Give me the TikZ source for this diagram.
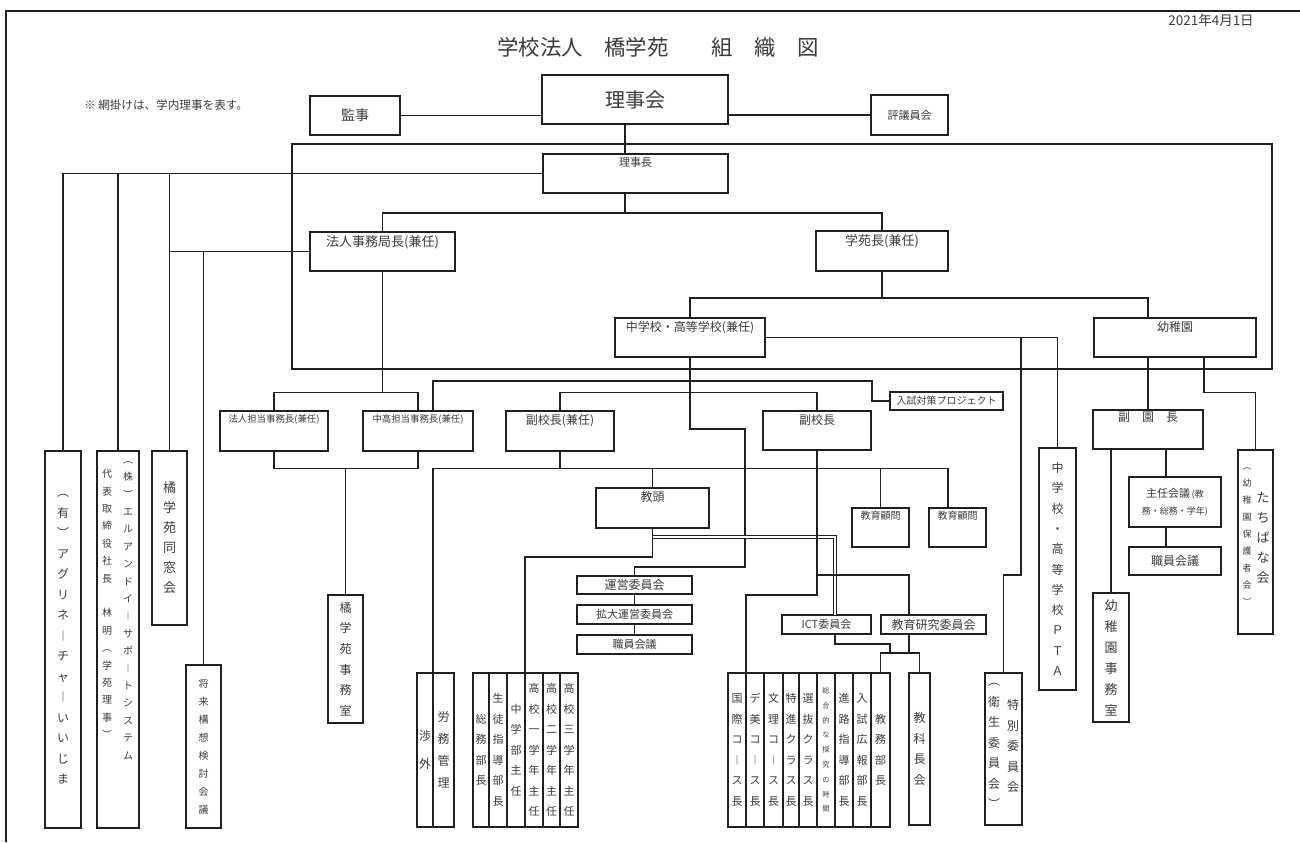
\documentclass[tikz,border=0pt]{standalone}
\usepackage{fontspec}
\usepackage{xcolor}
\usepackage{tikz}
\newfontfamily\jp{Noto Sans CJK JP}
\definecolor{ink}{HTML}{1F1F1F}
\definecolor{txt}{HTML}{3A3A3A}
\newcommand{\fsz}[2]{\fontsize{#1}{#2}\selectfont}
% stack the characters of #1 one below the other (vertical writing)
\makeatletter
\newcommand{\tate}[1]{%
  \edef\tate@list{#1}%
  \def\tate@out{}%
  \def\tate@sep{}%
  \expandafter\tate@go\tate@list\tate@end
  \tate@out}
\def\tate@go#1\tate@end{%
  \@tfor\tate@c:=#1\do{%
    \edef\tate@out{\unexpanded\expandafter{\tate@out}\tate@sep\tate@c}%
    \def\tate@sep{\noexpand\\}}}
\makeatother
\tikzset{
    box/.style={draw=ink,line width=0.8pt,inner sep=1pt,outer sep=0pt,
      text=txt,font=\jp\fsz{6}{7}},
    sz/.style 2 args={minimum width=#1*0.5pt,minimum height=#2*0.5pt},
    toplab/.style={anchor=north,inner sep=1.5pt,text=txt,font=\jp\fsz{6}{7}},
    tatebox/.style={box,align=center,font=\jp\fsz{6}{10.25}},
    tatetext/.style={align=center,inner sep=0pt,text=txt,font=\jp\fsz{6}{10.25}},
    wire/.style={draw=ink,line width=0.8pt},
    dblwire/.style={draw=ink,line width=0.45pt,double,double distance=0.9pt}
}

\begin{document}
\begin{tikzpicture}[x=0.5pt,y=-0.5pt]
  \useasboundingbox (0,0) rectangle (1300,842);
  \coordinate (frameSW) at (6,842);
  \coordinate (frameNE) at (1300,11);
  \draw[wire] (frameSW) |- (frameNE);

  \node[text=txt,font=\jp\fsz{10.7}{12}] (title) at (658,47) {学校法人　橋学苑　　組　織　図};
  \node[text=txt,font=\jp\fsz{6.75}{8}] (date) at (1211,20) {2021年4月1日};
  \node[anchor=west,text=txt,font=\jp\fsz{5.8}{7}] (note) at (77,105) {※ 網掛けは、学内理事を表す。};

  % board and the chair
  \node[box,sz={90}{39},font=\jp\fsz{7}{8}] (kanji) at (355,115.5) {監事};
  \node[box,sz={186}{49},font=\jp\fsz{10}{11}] (rijikai) at (635,99.5) {理事会};
  \node[box,sz={77}{40},font=\jp\fsz{5.5}{7}] (hyogi) at (909.5,115) {評議員会};
  \node[box,sz={185}{39},label={[toplab,font=\jp\fsz{5.5}{7}]north:理事長}] (rijicho) at (635.5,173.5) {};
  \node[box,sz={145}{39},label={[toplab,font=\jp\fsz{6.5}{8}]north:法人事務局長(兼任)}] (hojin) at (382.5,251.5) {};
  \node[box,sz={132}{40},label={[toplab,font=\jp\fsz{6.5}{8}]north:学苑長(兼任)}] (gakuen) at (882,251) {};
  \node[box,sz={150}{39},label={[toplab]north:中学校・高等学校(兼任)}] (chuko) at (690,337.5) {};
  \node[box,sz={162}{39},label={[toplab]north:幼稚園}] (yochien) at (1175,337.5) {};

  % school side
  \node[box,sz={108}{40},label={[toplab,font=\jp\fsz{4.7}{6}]north:法人担当事務長(兼任)}] (hojintan) at (274,431) {};
  \node[box,sz={110}{40},label={[toplab,font=\jp\fsz{4.7}{6}]north:中高担当事務長(兼任)}] (chukotan) at (418,431) {};
  \node[box,sz={108}{40},label={[toplab]north:副校長(兼任)}] (fukukoken) at (560,431) {};
  \node[box,sz={108}{39},label={[toplab]north:副校長}] (fukuko) at (817,430.5) {};
  \node[box,sz={113}{18},font=\jp\fsz{5}{6}] (nyushi) at (946.5,401) {入試対策プロジェクト};
  \node[box,sz={113}{40},label={[toplab]north:教頭}] (kyoto) at (652.5,508) {};
  \node[box,sz={57}{39},label={[toplab,font=\jp\fsz{5}{6}]north:教育顧問}] (komon1) at (880.5,527.5) {};
  \node[box,sz={57}{39},label={[toplab,font=\jp\fsz{5}{6}]north:教育顧問}] (komon2) at (957.5,527.5) {};
  \node[box,sz={115}{18}] (unei) at (634.5,585) {運営委員会};
  \node[box,sz={115}{19},font=\jp\fsz{5.5}{7}] (kakudai) at (634.5,614.5) {拡大運営委員会};
  \node[box,sz={115}{19},font=\jp\fsz{5.5}{7}] (shokuin) at (634.5,644.5) {職員会議};
  \node[box,sz={89}{19},font=\jp\fsz{5.5}{7}] (ict) at (826.5,624.5) {ICT委員会};
  \node[box,sz={105}{19}] (kenkyu) at (933.5,624.5) {教育研究委員会};

  % kindergarten side
  \node[box,sz={110}{39},label={[toplab,inner sep=0.8pt]north:副　園　長}] (fukuen) at (1148,429.5) {};
  \node[box,sz={92}{50},align=center,font=\jp\fsz{4.5}{8.5}] (shunin) at (1175,502)
    {{\fsz{5.5}{8.5}主任会議}\,(教\\務・総務・学年)};
  \node[box,sz={92}{28}] (yshokuin) at (1175,561) {職員会議};

  % vertical boxes, left
  \node[tatebox,sz={36}{377}] (agri) at (63,639.5) {\tate{︵有︶アグリネ︱チャ︱いいじま}};
  \node[box,sz={42}{377}] (kabu) at (118,639.5) {};
  \node[tatetext,anchor=north,font=\jp\fsz{5}{8.7}] (kabuR) at (128,461) {\tate{︵株︶エルアンドイ︱サポ︱トシステム}};
  \node[tatetext,anchor=north,font=\jp\fsz{5}{8.7}] (kabuL) at (107,469) {\tate{代表取締役社長　林明︵学苑理事︶}};
  \node[tatebox,sz={35}{174},font=\jp\fsz{6.5}{10}] (doso) at (169.5,538) {\tate{橘学苑同窓会}};
  \node[tatebox,sz={35}{163},font=\jp\fsz{5}{9}] (shorai) at (203.5,746.5) {\tate{将来構想検討会議}};
  \node[tatebox,sz={35}{128},font=\jp\fsz{6}{10.3}] (jimu) at (345.5,659) {\tate{橘学苑事務室}};

  % vertical boxes, bottom row
  \node[tatebox,sz={16}{154},font=\jp\fsz{6}{14}] (shogai) at (425,750) {\tate{渉外}};
  \node[tatebox,sz={21}{154},font=\jp\fsz{6}{11}] (romu) at (443.5,750) {\tate{労務管理}};
  \foreach \i/\xa/\xb/\txt in {1/473/489/総務部長,2/489/507/生徒指導部長,3/507/525/中学部主任,
      4/525/543/高校一学年主任,5/543/560/高校二学年主任,6/560/578/高校三学年主任} {
    \node[tatebox,font=\jp\fsz{5.5}{10.25},minimum width={(\xb-\xa)*0.5pt},minimum height=77pt]
      (m\i) at ({(\xa+\xb)/2},750) {\tate{\txt}};
  }
  \foreach \i/\xa/\xb/\fsv/\lsv/\txt in {1/728/746/5.5/10.25/国際コ︱ス長,2/746/764/5.5/10.25/デ美コ︱ス長,
      3/764/783/5.5/10.25/文理コ︱ス長,4/783/799/5.5/10.25/特進クラス長,5/799/817/5.5/10.25/選抜クラス長,
      6/817/835/3.6/7.4/総合的な探究の時間,7/835/853/5.5/10.25/進路指導部長,
      8/853/871/5.5/10.25/入試広報部長,9/871/890/5.5/10.25/教務部長} {
    \node[tatebox,font=\jp\fsz{\fsv}{\lsv},minimum width={(\xb-\xa)*0.5pt},minimum height=77pt]
      (k\i) at ({(\xa+\xb)/2},750) {\tate{\txt}};
  }
  \node[tatebox,sz={21}{152},font=\jp\fsz{6}{10.25}] (kyokacho) at (919.5,749) {\tate{教科長会}};
  \node[box,sz={37}{152}] (tokubetsu) at (1003.5,749) {};
  \node[tatetext] (tokuR) at (1013,746) {\tate{特別委員会}};
  \node[tatetext] (tokuL) at (994,746) {\tate{︵衛生委員会︶}};
  \node[tatebox,sz={37}{242},font=\jp\fsz{6}{10.15}] (pta) at (1057.5,569) {\tate{中学校・高等学校ＰＴＡ}};
  \node[tatebox,sz={36}{129},font=\jp\fsz{6.5}{10.5}] (yjimu) at (1111,657.5) {\tate{幼稚園事務室}};
  \node[box,sz={35}{184}] (tachibana) at (1255.5,542) {};
  \node[tatetext,font=\jp\fsz{6.5}{10}] (tachiR) at (1263,538) {\tate{たちばな会}};
  \node[tatetext,font=\jp\fsz{4.5}{8.5}] (tachiL) at (1247,537) {\tate{︵幼稚園保護者会︶}};

  % bus lines
  \coordinate (trunk) at (625,0);
  \coordinate (loopnw) at (292,144);
  \coordinate (loopse) at (1272,369);
  \coordinate (busA) at (0,213);
  \coordinate (busB) at (0,298);
  \coordinate (busD) at (0,392.5);
  \coordinate (busE) at (0,468.5);
  \coordinate (busF) at (0,537);
  \coordinate (busG) at (0,557);
  \coordinate (busH) at (0,575);
  \coordinate (busI) at (0,595);
  \coordinate (busJ) at (0,644);
  \coordinate (busK) at (0,653);
  \coordinate (nyushiturn) at (872,381);
  \coordinate (tokuturn) at (1021,575);
  \coordinate (chukoturn) at (745,429);
  \coordinate (uneiturn) at (745,567);

  \draw[wire] (loopnw) rectangle (loopse);
  \draw[wire] (kanji.east) -- (kanji.east -| rijikai.west);
  \draw[wire] (hyogi.west) -- (hyogi.west -| rijikai.east);
  \draw[wire] (rijikai.south -| trunk) -- (rijicho.north -| trunk);
  \draw[wire] (rijicho.west) -| (agri.north);
  \draw[wire] (kabu.north) -- (kabu.north |- rijicho.west);
  \draw[wire] (doso.north) -- (doso.north |- rijicho.west);
  \draw[wire] (hojin.west) -- (hojin.west -| doso.north);
  \draw[wire] (shorai.north) -- (shorai.north |- hojin.west);
  \draw[wire] (rijicho.south -| trunk) -- (trunk |- busA);
  \draw[wire] (hojin.north) -- (hojin.north |- busA) -- (gakuen.north |- busA) -- (gakuen.north);
  \draw[wire] (gakuen.south) -- (gakuen.south |- busB);
  \draw[wire] (chuko.north) -- (chuko.north |- busB) -- (fukuen.north |- busB) -- (fukuen.north |- yochien.north);
  \draw[wire] (fukuen.north |- yochien.south) -- (fukuen.north);
  \draw[wire] ([xshift=14.5pt]yochien.south) |- (tachibana.north |- busD) -- (tachibana.north);
  \draw[wire] (chuko.east) -| (pta.north);
  \draw[wire] (chuko.east -| tokuturn) -- (tokuturn) -| (tokubetsu.north);
  \draw[wire] (chuko.south) |- (chukoturn) -- (uneiturn) -| (unei.north);
  \draw[wire] ([xshift=7.5pt]chukotan.north) |- (nyushiturn) |- (nyushi.west);
  \draw[wire] (fukukoken.north) -- (fukukoken.north |- busD) -| (fukuko.north);
  \draw[wire] (hojin.south) -- (hojin.south |- busD);
  \draw[wire] (hojintan.north) -- (hojintan.north |- busD) -- (chukotan.north |- busD) -- (chukotan.north);
  \draw[wire] (hojintan.south) -- (hojintan.south |- busE) -- (chukotan.south |- busE) -- (chukotan.south);
  \draw[wire] (jimu.north) -- (jimu.north |- busE);
  \draw[wire] (fukukoken.south) -- (fukukoken.south |- busE);
  \draw[wire] (shogai.north east) -- (shogai.north east |- busE)
    -- ([xshift=-4.75pt]komon2.north |- busE) -- ([xshift=-4.75pt]komon2.north);
  \draw[wire] (kyoto.north) -- (kyoto.north |- busE);
  \draw[wire] (komon1.north) -- (komon1.north |- busE);
  \draw[wire] (kyoto.south) |- (m3.north east |- busG) -- (m3.north east);
  \draw[dblwire] (kyoto.south |- busF) -| ([xshift=4.25pt]ict.north);
  \draw[wire] (fukuko.south) |- (k1.north east |- busI) -- (k1.north east);
  \draw[wire] (fukuko.south |- busH) -| ([xshift=-12.25pt]kenkyu.north);
  \draw[wire] (unei.south) -- (kakudai.north);
  \draw[wire] (kakudai.south) -- (shokuin.north);
  \draw[wire] ([xshift=4.25pt]ict.south) |- (k9.north east |- busJ) -- (k9.north east |- busK);
  \draw[wire] ([xshift=-12.25pt]kenkyu.south) -- ([xshift=-12.25pt]kenkyu.south |- busK);
  \draw[wire] (k9.north) -- (k9.north |- busK) -- (kyokacho.north |- busK) -- (kyokacho.north);
  \draw[wire] (yjimu.north) -- (yjimu.north |- fukuen.south);
  \draw[wire] ([xshift=-4.5pt]shunin.north) -- ([xshift=-4.5pt]shunin.north |- fukuen.south);
  \draw[wire] ([xshift=-4.5pt]shunin.south) -- ([xshift=-4.5pt]yshokuin.north);
\end{tikzpicture}
\end{document}
